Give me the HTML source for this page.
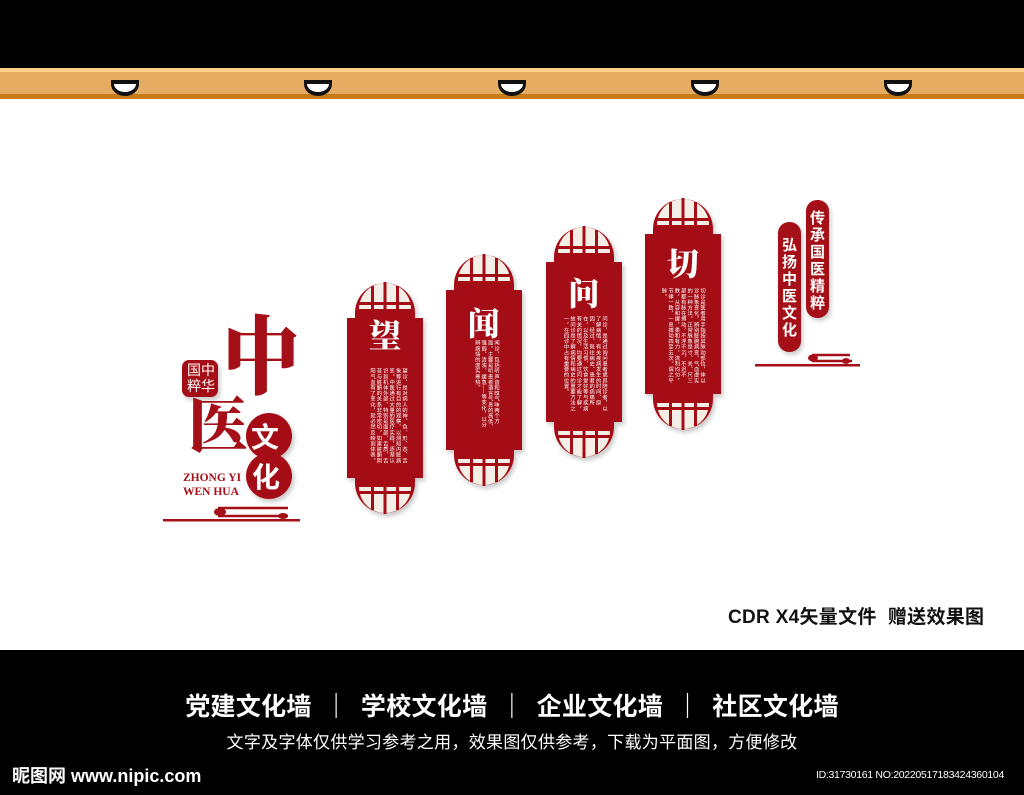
<!DOCTYPE html>
<html><head><meta charset="utf-8">
<style>
html,body{margin:0;padding:0}
body{width:1024px;height:795px;position:relative;overflow:hidden;background:#fff;font-family:"Liberation Sans","Noto Sans CJK SC",sans-serif}
.abs{position:absolute}
.vt{position:absolute;writing-mode:vertical-rl;color:#fff;font-size:5.3px;line-height:6.4px;font-family:"Noto Sans CJK SC",sans-serif;letter-spacing:0.3px;overflow:hidden}
.title{position:absolute;color:#fff;font-family:"Noto Serif CJK SC",serif;font-weight:900;font-size:32px;line-height:32px;width:76px;text-align:center}
.pill{position:absolute;width:23px;background:#a50f17;border-radius:11px;color:#fff;font-family:"Noto Sans CJK SC",sans-serif;font-weight:700;font-size:15px;line-height:17px;text-align:center;box-shadow:2px 3px 4px rgba(0,0,0,.2)}
</style></head><body>
<div class="abs" style="left:0;top:0;width:1024px;height:68px;background:#000"></div>
<div class="abs" style="left:0;top:68px;width:1024px;height:4px;background:#fbcf8a"></div>
<div class="abs" style="left:0;top:72px;width:1024px;height:22px;background:#e6ad62"></div>
<div class="abs" style="left:0;top:94px;width:1024px;height:5px;background:#c97b17"></div>

<svg class="abs" style="left:0;top:0" width="1024" height="650" viewBox="0 0 1024 650">
<defs>
<g id="lamp"><path d="M-14 80 H14 V84 A14 12 0 0 1 -14 84 Z" fill="#111"/><path d="M-11 84 H11 A11 8 0 0 1 -11 84 Z" fill="#fff"/></g>
<g id="cap">
<path d="M8 0 V-5 A30 30 0 0 1 68 -5 V0 Z" fill="#a50f17"/>
<path d="M12 -9 A26 26 0 0 1 64 -9 Z" fill="#f4efe6"/>
<rect x="10" y="-16" width="56" height="3" fill="#a50f17"/>
<rect x="10" y="-9" width="56" height="9" fill="#a50f17"/>
<rect x="24" y="-32" width="3" height="26" fill="#a50f17"/>
<rect x="36.5" y="-36" width="3" height="36" fill="#a50f17"/>
<rect x="49" y="-32" width="3" height="26" fill="#a50f17"/>
</g>
<g id="panel" filter="url(#sh)">
<use href="#cap"/>
<use href="#cap" transform="translate(0,160) scale(1,-1)"/>
<rect x="0" y="0" width="76" height="160" fill="#a50f17"/>
</g>
<filter id="sh" x="-20%" y="-20%" width="140%" height="140%"><feDropShadow dx="2" dy="3" stdDeviation="2.5" flood-color="#000" flood-opacity="0.22"/></filter>
</defs>
<use href="#lamp" x="125"/><use href="#lamp" x="318"/><use href="#lamp" x="512"/><use href="#lamp" x="705"/><use href="#lamp" x="898"/>
<use href="#panel" transform="translate(347,318)"/>
<use href="#panel" transform="translate(446,290)"/>
<use href="#panel" transform="translate(546,262)"/>
<use href="#panel" transform="translate(645,234)"/>
<rect x="163" y="519" width="137" height="2.5" fill="#a50f17"/>
<path d="M218 508 h70 M218 516 h70" stroke="#a50f17" stroke-width="2.5" fill="none"/>
<ellipse cx="220" cy="512" rx="6" ry="4" fill="#a50f17"/>
<ellipse cx="283" cy="516" rx="5" ry="3" fill="#a50f17"/>
<rect x="755" y="364" width="105" height="2.5" fill="#a50f17"/>
<path d="M812 355 h38 M812 361 h40" stroke="#a50f17" stroke-width="2.5" fill="none"/>
<ellipse cx="813" cy="358" rx="5" ry="3.5" fill="#a50f17"/>
<ellipse cx="846" cy="361" rx="4" ry="3" fill="#a50f17"/>
<circle cx="269" cy="436" r="23" fill="#a50f17" filter="url(#sh)"/>
<circle cx="269" cy="476" r="23" fill="#a50f17" filter="url(#sh)"/>
<rect x="182" y="360" width="36" height="37" rx="7" fill="#a50f17" filter="url(#sh)"/>
</svg>

<div class="abs" style="left:218px;top:300px;font-family:'Noto Serif CJK SC',serif;font-weight:900;font-size:86px;line-height:100px;color:#a50f17;transform:scaleX(0.9)">中</div>
<div class="abs" style="left:188px;top:382px;font-family:'Noto Serif CJK SC',serif;font-weight:900;font-size:60px;line-height:80px;color:#a50f17">医</div>
<div class="abs" style="left:184px;top:362px;width:34px;font-family:'Noto Sans CJK SC',sans-serif;font-size:14px;line-height:16px;color:#fff;text-align:center">国中<br>粹华</div>
<div class="abs" style="left:251px;top:420px;font-family:'Noto Sans CJK SC',sans-serif;font-weight:700;font-size:28px;line-height:32px;color:#fff">文</div>
<div class="abs" style="left:252px;top:460px;font-family:'Noto Sans CJK SC',sans-serif;font-weight:700;font-size:28px;line-height:32px;color:#fff">化</div>
<div class="abs" style="left:183px;top:471px;font-family:'Liberation Serif',serif;font-weight:700;font-size:11.5px;line-height:14px;color:#a50f17">ZHONG YI<br>WEN HUA</div>

<div class="title" style="left:347px;top:318px">望</div>
<div class="title" style="left:446px;top:306px">闻</div>
<div class="title" style="left:546px;top:276px">问</div>
<div class="title" style="left:645px;top:246px">切</div>

<div class="vt" style="left:362px;top:368px;width:46px;height:97px">望诊，是对病人的神、色、形、态、舌象等进行有目的的观察，以测知内脏病变。中医通过大量的医疗实践，逐渐认识到机体外部，特别是面部、舌质、舌苔与脏腑的关系非常密切。如果脏腑阴阳气血有了变化，就必然反映到体表。</div>
<div class="vt" style="left:468px;top:340px;width:32px;height:90px">闻诊，包括听声音和嗅气味两个方面。主要是听患者语言气息的高低、强弱、清浊、缓急——等变化，以分辨病情的虚实寒热。</div>
<div class="vt" style="left:560px;top:316px;width:48px;height:100px">问诊，是通过询问患者或其陪诊者，以了解病情，有关疾病发生的时间、原因、经过、既往病史、患者的病痛所在，以及生活习惯、饮食爱好等与疾病有关的情况，均要通过问诊才能了解，故问诊是了解病情和病史的重要方法之一，在四诊中占有重要的位置。</div>
<div class="vt" style="left:662px;top:288px;width:44px;height:96px">切诊是医者用手指按其脉动部位，体以诊脉象变化，辨别脏腑病变，气血虚实的一种方法。正常脉象是寸、关、尺三部都有脉在搏动，不浮不沉，不迟不数，从容和缓，柔和有力，流利均匀，节律一致，一息搏动四至五次。谓之平脉。</div>

<div class="pill" style="left:806px;top:200px;height:118px"><div style="padding-top:9px">传<br>承<br>国<br>医<br>精<br>粹</div></div>
<div class="pill" style="left:778px;top:222px;height:130px"><div style="padding-top:14px">弘<br>扬<br>中<br>医<br>文<br>化</div></div>

<div class="abs" style="left:728px;top:605px;font-family:'Liberation Sans','Noto Sans CJK SC',sans-serif;font-weight:700;font-size:19px;line-height:26px;color:#111;letter-spacing:0.3px">CDR X4矢量文件&nbsp; 赠送效果图</div>

<div class="abs" style="left:0;top:650px;width:1024px;height:145px;background:#000"></div>
<div class="abs" style="left:0;top:687px;width:1024px;text-align:center;color:#fff;font-family:'Noto Sans CJK SC',sans-serif;font-weight:700;font-size:25px;line-height:36px;letter-spacing:0.3px">党建文化墙 &nbsp;｜&nbsp; 学校文化墙 &nbsp;｜&nbsp; 企业文化墙 &nbsp;｜&nbsp; 社区文化墙</div>
<div class="abs" style="left:0;top:729px;width:1024px;text-align:center;color:#fff;font-family:'Noto Sans CJK SC',sans-serif;font-size:17px;line-height:24px;letter-spacing:0.3px">文字及字体仅供学习参考之用，效果图仅供参考，下载为平面图，方便修改</div>
<div class="abs" style="left:12px;top:763px;color:#fff;font-family:'Liberation Sans','Noto Sans CJK SC',sans-serif;font-weight:700;font-size:18px;line-height:26px">昵图网 www.nipic.com</div>
<div class="abs" style="right:20px;top:767px;color:#fff;font-family:'Liberation Sans',sans-serif;font-size:10.5px;line-height:16px;letter-spacing:-0.3px">ID:31730161 NO:20220517183424360104</div>
</body></html>
